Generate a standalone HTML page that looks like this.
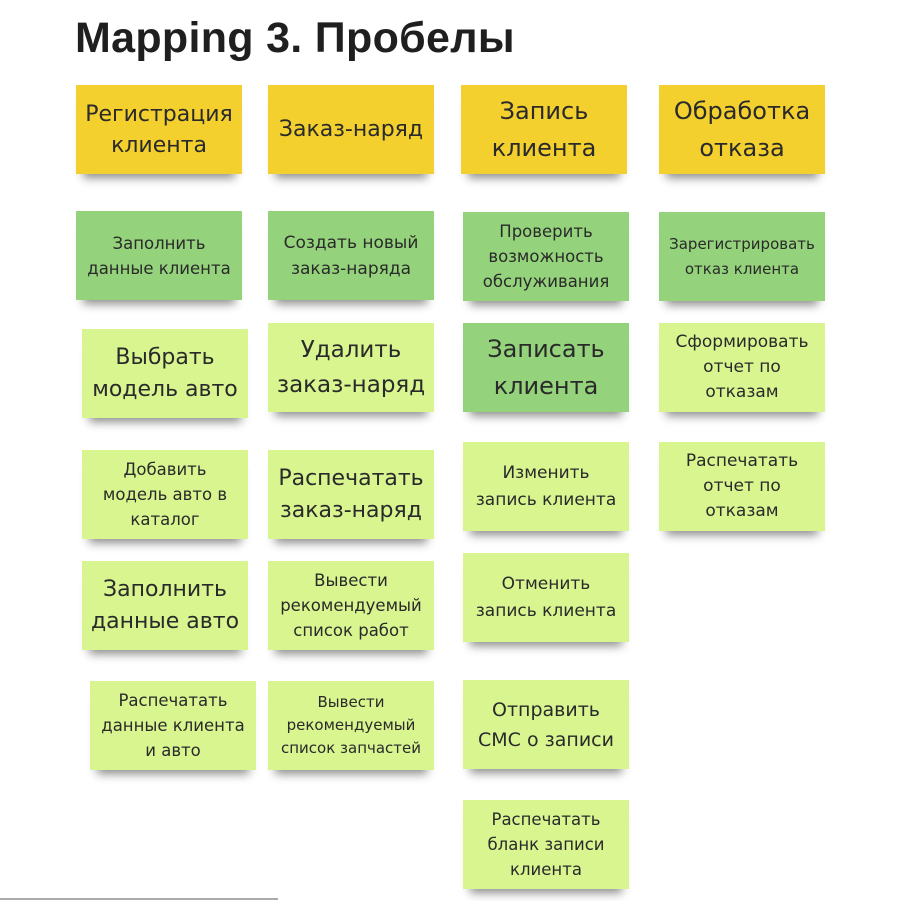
<!DOCTYPE html>
<html><head><meta charset="utf-8"><style>
body{margin:0;width:904px;height:901px;background:#fff;position:relative;overflow:hidden;font-family:"DejaVu Sans","Liberation Sans",sans-serif;}
h1{position:absolute;left:75px;top:14px;margin:0;font:bold 43px "Liberation Sans",sans-serif;color:#1f1f1f;letter-spacing:0.3px}
.c{position:absolute;width:166px;height:89px;display:flex;align-items:center;justify-content:center;text-align:center;color:#2a2a2a;box-shadow:0 11px 9px -7px rgba(0,0,0,0.45);}
.y{background:#f4d02e;font-size:22px;line-height:31px}
.g{background:#94d37b;font-size:16.5px;line-height:25px}
.l{background:#d8f590;font-size:16.5px;line-height:25px}
.m{font-size:22px;line-height:32px}
.line{position:absolute;left:0;top:898px;width:278px;height:2px;background:#aaa}
</style></head><body>
<h1>Mapping 3. Пробелы</h1>

<div class="c y" style="left:76px;top:85px">Регистрация<br>клиента</div>
<div class="c y" style="left:268px;top:85px">Заказ-наряд</div>
<div class="c y" style="left:461px;top:85px;font-size:24px;line-height:37px">Запись<br>клиента</div>
<div class="c y" style="left:659px;top:85px;font-size:24px;line-height:37px">Обработка<br>отказа</div>

<div class="c g" style="left:76px;top:211px">Заполнить<br>данные клиента</div>
<div class="c g" style="left:268px;top:211px;font-size:17px;line-height:26px">Создать новый<br>заказ-наряда</div>
<div class="c g" style="left:463px;top:212px">Проверить<br>возможность<br>обслуживания</div>
<div class="c g" style="left:659px;top:212px;font-size:15px">Зарегистрировать<br>отказ клиента</div>

<div class="c l m" style="left:82px;top:329px">Выбрать<br>модель авто</div>
<div class="c l m" style="left:268px;top:323px;font-size:23px;line-height:35px">Удалить<br>заказ-наряд</div>
<div class="c g m" style="left:463px;top:323px;font-size:24px;line-height:37px">Записать<br>клиента</div>
<div class="c l" style="left:659px;top:323px;font-size:17px">Сформировать<br>отчет по<br>отказам</div>

<div class="c l" style="left:82px;top:450px">Добавить<br>модель авто в<br>каталог</div>
<div class="c l m" style="left:268px;top:450px">Распечатать<br>заказ-наряд</div>
<div class="c l" style="left:463px;top:442px;font-size:17px;line-height:27px">Изменить<br>запись клиента</div>
<div class="c l" style="left:659px;top:442px;font-size:17px">Распечатать<br>отчет по<br>отказам</div>

<div class="c l m" style="left:82px;top:561px">Заполнить<br>данные авто</div>
<div class="c l" style="left:268px;top:561px">Вывести<br>рекомендуемый<br>список работ</div>
<div class="c l" style="left:463px;top:553px;font-size:17px;line-height:27px">Отменить<br>запись клиента</div>

<div class="c l" style="left:90px;top:681px">Распечатать<br>данные клиента<br>и авто</div>
<div class="c l" style="left:268px;top:681px;font-size:15px;line-height:23px">Вывести<br>рекомендуемый<br>список запчастей</div>
<div class="c l" style="left:463px;top:680px;font-size:19px;line-height:30px">Отправить<br>СМС о записи</div>

<div class="c l" style="left:463px;top:800px">Распечатать<br>бланк записи<br>клиента</div>

<div class="line"></div>
</body></html>
